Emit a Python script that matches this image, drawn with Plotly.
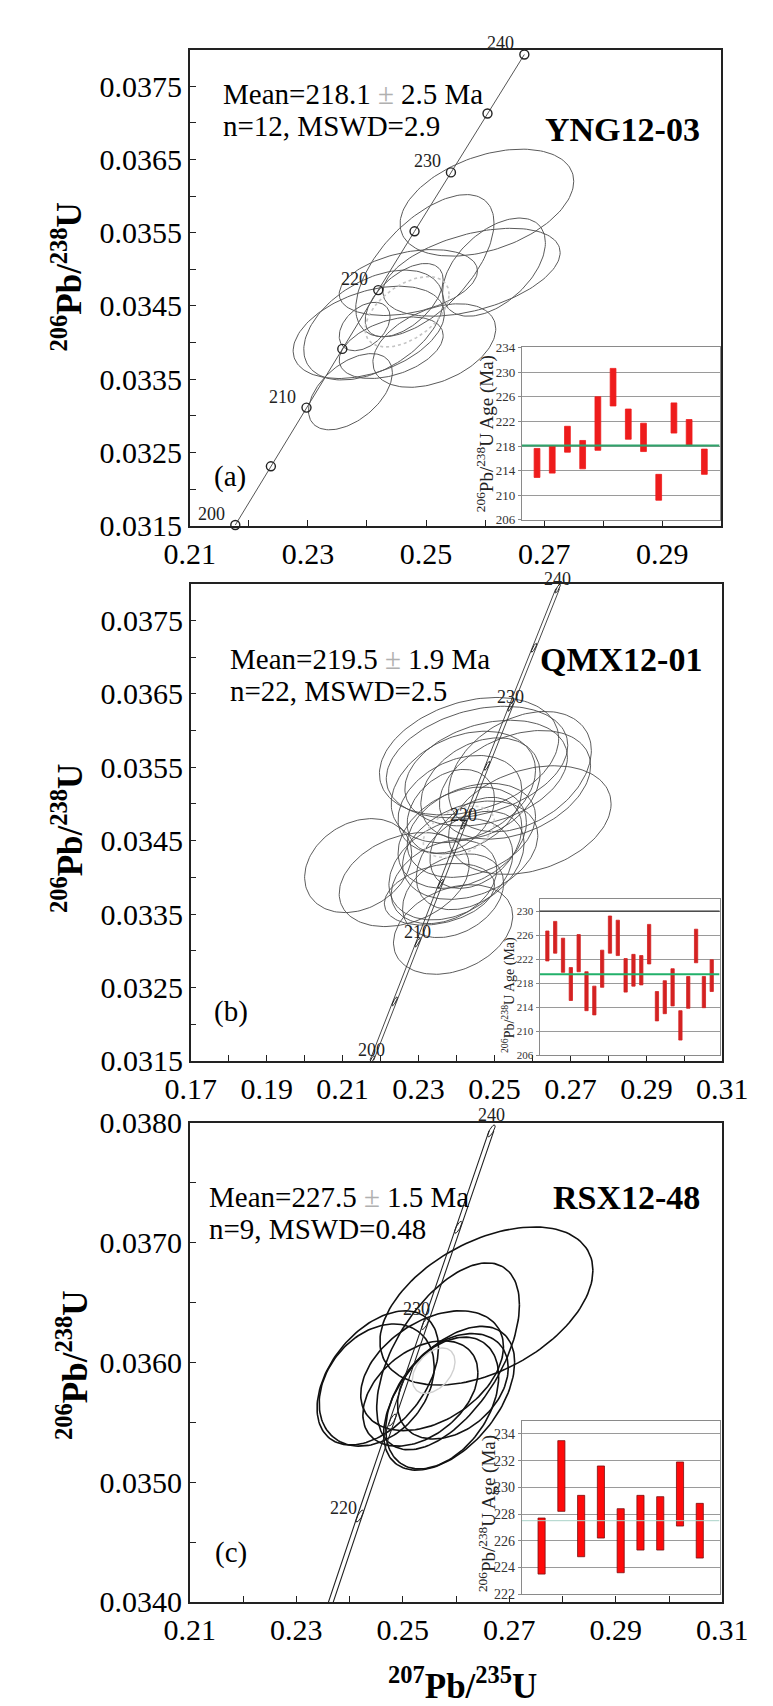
import numpy as np
import plotly.graph_objects as go

W, H = 773, 1706
SERIF = "Liberation Serif"

# ---------------- data ----------------
# Concordia reference points (age in Ma, 207Pb/235U, 206Pb/238U)
conc_age = [200, 205, 210, 215, 220, 225, 230, 235, 240]
conc_x = [0.21771, 0.22373, 0.22976, 0.23582, 0.24191, 0.24805, 0.25421, 0.26040, 0.26664]
conc_y = [0.031511, 0.032312, 0.033113, 0.033914, 0.034717, 0.035519, 0.036323, 0.037127, 0.037932]
conc_lab = ["200", "", "210", "", "220", "", "230", "", "240"]

# Panel (a) YNG12-03 error ellipses: centre, half-widths, correlation
a_cx = [0.2603, 0.2498, 0.2615, 0.2577, 0.2470, 0.2403, 0.2411, 0.2514, 0.2372, 0.2396, 0.2441, 0.2463]
a_cy = [0.03591, 0.03505, 0.03503, 0.03496, 0.03482, 0.03414, 0.03424, 0.03396, 0.03333, 0.03422, 0.03393, 0.03458]
a_sx = [0.0147, 0.0117, 0.0087, 0.0150, 0.0117, 0.0128, 0.0118, 0.0104, 0.0071, 0.0043, 0.0088, 0.0066]
a_sy = [0.00073, 0.00097, 0.00067, 0.00060, 0.00045, 0.00063, 0.00075, 0.00057, 0.00052, 0.00033, 0.00042, 0.00050]
a_rho = [0.40, 0.60, 0.50, 0.45, 0.35, 0.40, 0.45, 0.40, 0.50, 0.40, 0.40, 0.55]
a_mean_ell = [0.2468, 0.03442, 0.0071, 0.00048, 0.50]

# Panel (b) QMX12-01
b_cx = [0.2433, 0.2454, 0.2567, 0.2478, 0.2418, 0.2554, 0.2593, 0.2409, 0.2439, 0.2415, 0.2436,
        0.2436, 0.2385, 0.2141, 0.2262, 0.2367, 0.2391, 0.2391, 0.2355, 0.2451, 0.2385, 0.2463]
b_cy = [0.03565, 0.03557, 0.03544, 0.03542, 0.03523, 0.03526, 0.03478, 0.03499, 0.03464, 0.03454, 0.03437,
        0.03423, 0.03411, 0.03416, 0.03397, 0.03394, 0.03375, 0.03329, 0.03377, 0.03447, 0.03490, 0.03521]
b_sx = [0.0236, 0.0239, 0.0188, 0.0214, 0.0190, 0.0199, 0.0214, 0.0163, 0.0169, 0.0169, 0.0178,
        0.0142, 0.0163, 0.0141, 0.0171, 0.0139, 0.0133, 0.0157, 0.0145, 0.0121, 0.0115, 0.0157]
b_sy = [0.00080, 0.00076, 0.00082, 0.00072, 0.00076, 0.00074, 0.00074, 0.00067, 0.00064, 0.00069, 0.00067,
        0.00067, 0.00069, 0.00064, 0.00064, 0.00057, 0.00057, 0.00061, 0.00042, 0.00062, 0.00057, 0.00069]
b_rho = [0.30, 0.30, 0.35, 0.30, 0.30, 0.35, 0.30, 0.30, 0.30, 0.30, 0.30,
         0.35, 0.30, 0.25, 0.30, 0.30, 0.30, 0.30, 0.30, 0.35, 0.30, 0.30]
b_mean_ell = [0.2406, 0.03462, 0.0094, 0.00035, 0.40]

# Panel (c) RSX12-48
c_cx = [0.2657, 0.2585, 0.2453, 0.2451, 0.2555, 0.2587, 0.2574, 0.2533, 0.2594]
c_cy = [0.03647, 0.03605, 0.03587, 0.03581, 0.03593, 0.03570, 0.03566, 0.03574, 0.03580]
c_sx = [0.0200, 0.0134, 0.0114, 0.0108, 0.0134, 0.0123, 0.0106, 0.0108, 0.0104]
c_sy = [0.00066, 0.00078, 0.00056, 0.00051, 0.00050, 0.00060, 0.00055, 0.00044, 0.00044]
c_rho = [0.45, 0.55, 0.45, 0.30, 0.40, 0.50, 0.40, 0.40, 0.35]
c_mean_ell = [0.2558, 0.03593, 0.0040, 0.00019, 0.40]

# Inset weighted-mean bars (206Pb/238U age, Ma): low / high ends
a_lo = [212.9, 213.6, 217.0, 214.3, 217.3, 224.5, 219.1, 217.1, 209.2, 220.1, 218.1, 213.4]
a_hi = [217.6, 218.0, 221.2, 218.9, 226.0, 230.6, 224.0, 221.7, 213.4, 225.0, 222.3, 217.5]
b_lo = [221.7, 223.0, 219.8, 215.1, 219.9, 213.4, 212.7, 217.3, 223.0, 222.6, 216.5,
        217.5, 217.7, 221.2, 211.7, 212.9, 214.2, 208.5, 213.8, 221.4, 213.9, 216.6]
b_hi = [226.7, 228.3, 225.5, 220.6, 226.1, 219.9, 217.5, 223.5, 229.2, 228.5, 222.1,
        222.8, 222.6, 227.8, 216.6, 218.4, 220.4, 213.4, 219.1, 227.0, 219.1, 221.9]
c_lo = [223.5, 228.2, 224.8, 226.2, 223.6, 225.3, 225.3, 227.1, 224.7]
c_hi = [227.7, 233.5, 229.4, 231.6, 228.4, 229.4, 229.3, 231.9, 228.8]
means = [218.1, 219.5, 227.5]

# Tick values (labelled majors) and unlabelled minors
a_xt = [0.21, 0.23, 0.25, 0.27, 0.29]
a_xl = ["0.21", "0.23", "0.25", "0.27", "0.29"]
a_xm = [0.22, 0.24, 0.26, 0.28, 0.30]
b_xt = [0.17, 0.19, 0.21, 0.23, 0.25, 0.27, 0.29, 0.31]
b_xl = ["0.17", "0.19", "0.21", "0.23", "0.25", "0.27", "0.29", "0.31"]
b_xm = [0.18, 0.20, 0.22, 0.24, 0.26, 0.28, 0.30]
c_xt = [0.21, 0.23, 0.25, 0.27, 0.29, 0.31]
c_xl = ["0.21", "0.23", "0.25", "0.27", "0.29", "0.31"]
c_xm = [0.22, 0.24, 0.26, 0.28, 0.30]
ab_yt = [0.0315, 0.0325, 0.0335, 0.0345, 0.0355, 0.0365, 0.0375]
ab_yl = ["0.0315", "0.0325", "0.0335", "0.0345", "0.0355", "0.0365", "0.0375"]
ab_ym = [0.0320, 0.0330, 0.0340, 0.0350, 0.0360, 0.0370]
c_yt = [0.0340, 0.0350, 0.0360, 0.0370, 0.0380]
c_yl = ["0.0340", "0.0350", "0.0360", "0.0370", "0.0380"]
c_ym = [0.0345, 0.0355, 0.0365, 0.0375]
ia_yt = [206, 210, 214, 218, 222, 226, 230, 234]
ib_yt = [206, 210, 214, 218, 222, 226, 230]
ic_yt = [222, 224, 226, 228, 230, 232, 234]


# ---------------- helpers ----------------
def ellipse(cx, cy, sx, sy, rho, n=140):
    t = np.linspace(0, 2 * np.pi, n)
    return (cx + sx * np.cos(t),
            cy + sy * (rho * np.cos(t) + np.sqrt(1 - rho ** 2) * np.sin(t)))


def ellipse_group(cxs, cys, sxs, sys_, rhos):
    xs, ys = [], []
    for cx, cy, sx, sy, r in zip(cxs, cys, sxs, sys_, rhos):
        ex, ey = ellipse(cx, cy, sx, sy, r)
        xs += list(ex) + [None]
        ys += list(ey) + [None]
    return xs, ys


def px2x(px):
    return px / W


def px2y(py):
    return 1 - py / H


fig = go.Figure()

# ---------------- panel (a) ----------------
xs, ys = ellipse_group(a_cx, a_cy, a_sx, a_sy, a_rho)
fig.add_trace(go.Scatter(x=xs, y=ys, mode="lines", line=dict(color="#5a5a5a", width=1),
                         xaxis="x", yaxis="y", hoverinfo="skip"))
mx, my = ellipse(*a_mean_ell)
fig.add_trace(go.Scatter(x=mx, y=my, mode="lines", line=dict(color="#c4c4c4", width=1.6, dash="dot"),
                         xaxis="x", yaxis="y", hoverinfo="skip"))
fig.add_trace(go.Scatter(x=conc_x, y=conc_y, mode="lines", line=dict(color="#555", width=1),
                         xaxis="x", yaxis="y", hoverinfo="skip"))
fig.add_trace(go.Scatter(x=conc_x, y=conc_y, mode="markers", cliponaxis=False,
                         marker=dict(symbol="circle-open", size=9, color="#222", line=dict(width=1.4)),
                         xaxis="x", yaxis="y", hoverinfo="skip"))

# ---------------- panel (b) ----------------
xs, ys = ellipse_group(b_cx, b_cy, b_sx, b_sy, b_rho)
fig.add_trace(go.Scatter(x=xs, y=ys, mode="lines", line=dict(color="#4a4a4a", width=0.9),
                         xaxis="x3", yaxis="y3", hoverinfo="skip"))
mx, my = ellipse(*b_mean_ell)
fig.add_trace(go.Scatter(x=mx, y=my, mode="lines", line=dict(color="#cfcfcf", width=1.6, dash="dot"),
                         xaxis="x3", yaxis="y3", hoverinfo="skip"))
for off in (-0.0005, 0.0005):
    fig.add_trace(go.Scatter(x=[v + off for v in conc_x], y=conc_y, mode="lines",
                             line=dict(color="#333", width=0.9), xaxis="x3", yaxis="y3", hoverinfo="skip"))
xs, ys = ellipse_group(conc_x, conc_y, [0.0007] * 9, [0.00006] * 9, [0.85] * 9)
fig.add_trace(go.Scatter(x=xs, y=ys, mode="lines", line=dict(color="#222", width=1),
                         xaxis="x3", yaxis="y3", hoverinfo="skip"))

# ---------------- panel (c) ----------------
xs, ys = ellipse_group(c_cx, c_cy, c_sx, c_sy, c_rho)
fig.add_trace(go.Scatter(x=xs, y=ys, mode="lines", line=dict(color="#111", width=1.6),
                         xaxis="x5", yaxis="y5", hoverinfo="skip"))
mx, my = ellipse(*c_mean_ell)
fig.add_trace(go.Scatter(x=mx, y=my, mode="lines", line=dict(color="#d0d0d0", width=1.4),
                         xaxis="x5", yaxis="y5", hoverinfo="skip"))
for off in (-0.00045, 0.00045):
    fig.add_trace(go.Scatter(x=[v + off for v in conc_x], y=conc_y, mode="lines",
                             line=dict(color="#222", width=1.1), xaxis="x5", yaxis="y5", hoverinfo="skip"))
xs, ys = ellipse_group(conc_x[4:], conc_y[4:], [0.0007] * 5, [0.00005] * 5, [0.8] * 5)
fig.add_trace(go.Scatter(x=xs, y=ys, mode="lines", line=dict(color="#222", width=1),
                         xaxis="x5", yaxis="y5", hoverinfo="skip"))


# ---------------- insets ----------------
def add_inset(lo, hi, mean, xa, ya, width, color, edge, mcolor, mwidth):
    n = len(lo)
    idx = list(range(1, n + 1))
    fig.add_trace(go.Bar(x=idx, y=[h - l for l, h in zip(lo, hi)], base=lo, width=width,
                         marker=dict(color=color, line=dict(color=edge, width=0.8)),
                         xaxis=xa, yaxis=ya, hoverinfo="skip"))
    fig.add_trace(go.Scatter(x=[0, n + 1], y=[mean, mean], mode="lines",
                             line=dict(color=mcolor, width=mwidth), xaxis=xa, yaxis=ya, hoverinfo="skip"))


add_inset(a_lo, a_hi, means[0], "x2", "y2", 0.38, "#ee1c1c", "#ee1c1c", "#2fa36b", 2)
add_inset(b_lo, b_hi, means[1], "x4", "y4", 0.42, "#d42222", "#d42222", "#22b06a", 2)
add_inset(c_lo, c_hi, means[2], "x6", "y6", 0.36, "#ff0a0a", "#7a1010", "#a9d2c8", 1)


# ---------------- axes ----------------
def main_ax(dom, rng, tv, tt, mv, anchor):
    return dict(domain=dom, range=rng, tickmode="array", tickvals=tv, ticktext=tt,
                ticks="inside", ticklen=6, tickwidth=1.2, tickcolor="#222",
                minor=dict(tickmode="array", tickvals=mv, ticks="inside", ticklen=6,
                           tickwidth=1.2, tickcolor="#222", showgrid=False),
                showline=True, linecolor="#222", linewidth=1.6,
                mirror=True, showgrid=False, zeroline=False, anchor=anchor,
                tickfont=dict(family=SERIF, size=30, color="black"))


def inset_x(dom, n, anchor):
    return dict(domain=dom, range=[0, n + 1], showline=True, linecolor="#8a8a8a", linewidth=1,
                mirror=True, showgrid=False, zeroline=False, showticklabels=False, ticks="",
                anchor=anchor)


def inset_y(dom, rng, tv, fs, anchor):
    return dict(domain=dom, range=rng, tickmode="array", tickvals=tv, ticks="outside", ticklen=3,
                tickcolor="#8a8a8a", showline=True, linecolor="#8a8a8a", linewidth=1, mirror=True,
                showgrid=True, gridcolor="#9a9a9a", gridwidth=1, zeroline=False, anchor=anchor,
                tickfont=dict(family=SERIF, size=fs, color="#333"))


layout = dict(
    width=W, height=H, margin=dict(l=0, r=0, t=0, b=0),
    paper_bgcolor="white", plot_bgcolor="white", showlegend=False,
    font=dict(family=SERIF, color="black"),
    xaxis=main_ax([px2x(167), px2x(737)], [0.21, 0.30], a_xt, a_xl, a_xm, "y"),
    yaxis=main_ax([px2y(511), px2y(25)], [0.0315, 0.0380], ab_yt, ab_yl, ab_ym, "x"),
    xaxis3=main_ax([px2x(168), px2x(738)], [0.17, 0.31], b_xt, b_xl, b_xm, "y3"),
    yaxis3=main_ax([px2y(1057), px2y(570)], [0.0315, 0.0380], ab_yt, ab_yl, ab_ym, "x3"),
    xaxis5=main_ax([px2x(167), px2x(738)], [0.21, 0.31], c_xt, c_xl, c_xm, "y5"),
    yaxis5=main_ax([px2y(1609), px2y(1120)], [0.0340, 0.0380], c_yt, c_yl, c_ym, "x5"),
    xaxis2=inset_x([px2x(523), px2x(735)], len(a_lo), "y2"),
    yaxis2=inset_y([px2y(505), px2y(329)], [206, 234], ia_yt, 13, "x2"),
    xaxis4=inset_x([px2x(542), px2x(735)], len(b_lo), "y4"),
    yaxis4=inset_y([px2y(1051), px2y(892)], [206, 232], ib_yt, 11, "x4"),
    xaxis6=inset_x([px2x(523), px2x(735)], len(c_lo), "y6"),
    yaxis6=inset_y([px2y(1601), px2y(1424)], [222, 235], ic_yt, 14, "x6"),
)
fig.update_layout(**layout)

# darker 230 line in inset (b)
fig.add_shape(type="line", xref="x4 domain", yref="y4", x0=0, x1=1, y0=230, y1=230,
              line=dict(color="#333", width=1.2))

ann = []


def txt(text, x, y, size, xanchor="left", bold=False, angle=0, color="black"):
    if bold:
        text = "<b>" + text + "</b>"
    ann.append(dict(text=text, x=px2x(x), y=px2y(y), xref="paper", yref="paper", showarrow=False,
                    xanchor=xanchor, yanchor="middle", textangle=angle,
                    font=dict(family=SERIF, size=size, color=color)))


PM = "<span style='color:#b0b0b0'>±</span>"
txt("Mean=218.1 " + PM + " 2.5 Ma", 200, 70, 29)
txt("n=12, MSWD=2.9", 200, 103, 29)
txt("YNG12-03", 716, 107, 34, xanchor="right", bold=True)
txt("(a)", 210, 461, 29, xanchor="center")

txt("Mean=219.5 " + PM + " 1.9 Ma", 208, 647, 29)
txt("n=22, MSWD=2.5", 208, 680, 29)
txt("QMX12-01", 718, 647, 34, xanchor="right", bold=True)
txt("(b)", 211, 1007, 29, xanchor="center")

txt("Mean=227.5 " + PM + " 1.5 Ma", 186, 1196, 29)
txt("n=9, MSWD=0.48", 186, 1228, 29)
txt("RSX12-48", 716, 1196, 34, xanchor="right", bold=True)
txt("(c)", 211, 1559, 29, xanchor="center")

YT = "<sup>206</sup>Pb/<sup>238</sup>U"
txt(YT, 36, 257, 35, xanchor="center", bold=True, angle=-90)
txt(YT, 36, 830, 35, xanchor="center", bold=True, angle=-90)
txt(YT, 42, 1368, 35, xanchor="center", bold=True, angle=-90)
txt("<sup>207</sup>Pb/<sup>235</sup>U", 459, 1692, 35, xanchor="center", bold=True)

IT = "<sup>206</sup>Pb/<sup>238</sup>U Age (Ma)"
txt(IT, 484, 417, 19, xanchor="center", angle=-90, color="#222")
txt(IT, 509, 990, 14, xanchor="center", angle=-90, color="#222")
txt(IT, 486, 1519, 19, xanchor="center", angle=-90, color="#222")

# concordia age labels
for i, lab in enumerate(conc_lab):
    if not lab:
        continue
    ann.append(dict(text=lab, x=conc_x[i], y=conc_y[i], xref="x", yref="y", showarrow=False,
                    xanchor="right", yanchor="middle", xshift=-8, yshift=11,
                    font=dict(family=SERIF, size=18, color="#222")))
    ann.append(dict(text=lab, x=conc_x[i], y=conc_y[i], xref="x3", yref="y3", showarrow=False,
                    xanchor="center", yanchor="middle", xshift=0, yshift=10,
                    font=dict(family=SERIF, size=18, color="#222")))
for i, dx, dy in ((4, -16, 8), (6, -9, 15), (8, 0, 16)):
    ann.append(dict(text=conc_lab[i], x=conc_x[i], y=conc_y[i], xref="x5", yref="y5", showarrow=False,
                    xanchor="center", yanchor="middle", xshift=dx, yshift=dy,
                    font=dict(family=SERIF, size=18, color="#222")))

fig.update_layout(annotations=ann)
fig.write_html("out.html")
